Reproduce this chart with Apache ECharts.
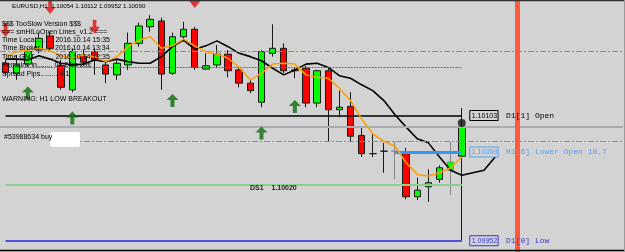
<!DOCTYPE html>
<html><head><meta charset="utf-8">
<script src="https://cdn.jsdelivr.net/npm/echarts@6/dist/echarts.min.js"></script>
<style>html,body{margin:0;padding:0;background:#d3d3d3}#c{width:625px;height:252px}</style>
</head><body><div id="c"></div>
<script>
// H1 bar times (broker time), last real bar = "10.14 13:00"; later slots are empty future space
const barTimes = [
 "10.12 20:00","10.12 21:00","10.12 22:00","10.12 23:00",
 "10.13 00:00","10.13 01:00","10.13 02:00","10.13 03:00","10.13 04:00","10.13 05:00","10.13 06:00","10.13 07:00",
 "10.13 08:00","10.13 09:00","10.13 10:00","10.13 11:00","10.13 12:00","10.13 13:00","10.13 14:00","10.13 15:00",
 "10.13 16:00","10.13 17:00","10.13 18:00","10.13 19:00","10.13 20:00","10.13 21:00","10.13 22:00","10.13 23:00",
 "10.14 00:00","10.14 01:00","10.14 02:00","10.14 03:00","10.14 04:00","10.14 05:00","10.14 06:00","10.14 07:00",
 "10.14 08:00","10.14 09:00","10.14 10:00","10.14 11:00","10.14 12:00","10.14 13:00",
 "10.14 14:00","10.14 15:00","10.14 16:00","10.14 17:00","10.14 18:00","10.14 19:00","10.14 20:00","10.14 21:00",
 "10.14 22:00","10.14 23:00","10.15 00:00","10.15 01:00","10.15 02:00","10.15 03:00"
];
const opens  = [1.10166,1.10154,1.10165,1.10182,1.10199,1.10163,1.10134,1.10176,1.10180,1.10164,1.10152,1.10164,1.10190,1.10210,1.10217,1.10154,1.10198,1.10207,1.10159,1.10164,1.10177,1.10158,1.10142,1.10119,1.10178,1.10184,1.10158,1.10160,1.10118,1.10157,1.10110,1.10114,1.10079,1.10057,1.10060,1.10060,1.10058,1.10005,1.10017,1.10026,1.10037,1.10054];
const closes = [1.10155,1.10164,1.10180,1.10196,1.10184,1.10137,1.10180,1.10168,1.10170,1.10153,1.10166,1.10190,1.10211,1.10219,1.10153,1.10198,1.10207,1.10161,1.10163,1.10177,1.10157,1.10142,1.10133,1.10180,1.10184,1.10157,1.10157,1.10118,1.10157,1.10110,1.10113,1.10078,1.10057,1.10057,1.10060,1.10060,1.10005,1.10013,1.10022,1.10040,1.10047,1.10090];
const lows   = [1.10152,1.10146,1.10163,1.10178,1.10180,1.10134,1.10131,1.10163,1.10152,1.10142,1.10146,1.10158,1.10186,1.10204,1.10134,1.10152,1.10192,1.10158,1.10158,1.10160,1.10149,1.10137,1.10130,1.10113,1.10174,1.10154,1.10148,1.10113,1.10113,1.10071,1.10101,1.10071,1.10053,1.10053,1.10034,1.10026,1.10002,1.10001,1.09999,1.10022,1.10007,1.09952];
const highs  = [1.10170,1.10176,1.10184,1.10203,1.10204,1.10170,1.10184,1.10182,1.10184,1.10168,1.10170,1.10203,1.10215,1.10224,1.10221,1.10203,1.10216,1.10210,1.10178,1.10188,1.10182,1.10160,1.10146,1.10182,1.10213,1.10190,1.10161,1.10163,1.10158,1.10161,1.10133,1.10131,1.10088,1.10081,1.10070,1.10072,1.10064,1.10028,1.10038,1.10043,1.10071,1.10112];
// slow MA (shifted 3 bars forward) and fast MA
const maSlow = [1.10171,1.10171,1.10170,1.10175,1.10171,1.10166,1.10164,1.10165,1.10170,1.10168,1.10171,1.10168,1.10166,1.10166,1.10174,1.10186,1.10194,1.10183,1.10187,1.10193,1.10186,1.10178,1.10174,1.10169,1.10160,1.10152,1.10158,1.10165,1.10166,1.10161,1.10151,1.10148,1.10140,1.10133,1.10121,1.10104,1.10089,1.10075,1.10070,1.10053,1.10037,1.10031,1.10034,1.10037,1.10053];
const maFast = [1.10174,1.10180,1.10182,1.10184,1.10181,1.10175,1.10172,1.10176,1.10174,1.10168,1.10174,1.10186,1.10194,1.10198,1.10184,1.10187,1.10195,1.10187,1.10180,1.10177,1.10172,1.10161,1.10146,1.10154,1.10165,1.10166,1.10165,1.10152,1.10149,1.10148,1.10136,1.10121,1.10099,1.10081,1.10072,1.10066,1.10046,1.10032,1.10030,1.10034,1.10040,1.10053];
// signal arrows
const sellArrowIdx = [0, 4, 8, 17];
const sellArrowPrice = [1.10206, 1.10234, 1.10210, 1.10241];
const buyArrowIdx = [2, 6, 15, 23, 26];
const buyArrowPrice = [1.10130, 1.10100, 1.10121, 1.10082, 1.10114];
// price levels
const levelUpper = 1.10180, levelOlive = 1.10161, levelD1Open = 1.10103, levelBid = 1.10090;
const levelOrder = 1.10072, levelH1Open = 1.10059, levelDS1 = 1.10020, levelD1Low = 1.09952;
const currentMarker = 1.10094;
const lastIdx = 41, h1StartIdx = 35, timeLineIdx = 46;
const grayWickIdx = [35, 40];

const candles = opens.map((o, i) => {
  const v = [o, closes[i], lows[i], highs[i]];
  return grayWickIdx.includes(i) ? {value: v, itemStyle: {borderColor: '#8a8a8a', borderColor0: '#8a8a8a', borderColorDoji: '#8a8a8a'}} : v;
});

const upPath = 'path://M6,0 L12,6 L8,6 L8,13 L4,13 L4,6 L0,6 Z';
const downPath = 'path://M4,0 L8,0 L8,7 L12,7 L6,14 L0,7 L4,7 Z';

function boxLabel(price, text, col) {
  return {
    show: true, position: 'end', distance: 8,
    formatter: '{b|' + price + '}{t|' + text + '}',
    rich: {
      b: {fontFamily: 'Liberation Sans', fontSize: 7, color: col, borderColor: col, borderWidth: 1, padding: [2, 1, 1, 2]},
      t: {fontFamily: 'Liberation Mono', fontSize: 8, color: col, padding: [0, 0, 0, 8]}
    }
  };
}

const txt = (s, x, y, size, weight, col) => ({type: 'text', x: x, y: y, z: 100, silent: true,
  style: {text: s, font: (weight || 'normal') + ' ' + (size || 7) + 'px "Liberation Sans"', fill: col || '#000', verticalAlign: 'middle'}});

const chart = echarts.init(document.getElementById('c'), null, {renderer: 'canvas'});
chart.setOption({
  animation: false,
  backgroundColor: '#d3d3d3',
  grid: {left: -6.875, right: 1.875, top: 0, bottom: 0},
  xAxis: {type: 'category', data: barTimes, boundaryGap: true, show: false},
  yAxis: {type: 'value', min: 1.099384, max: 1.102423, show: false, splitLine: {show: false}, scale: true},
  series: [
    {
      type: 'line', data: [], symbol: 'none', z: 1, silent: true,
      markLine: {
        silent: true, symbol: ['none', 'none'], animation: false, precision: 5,
        label: {show: false},
        data: [
          {yAxis: levelUpper, lineStyle: {color: '#00f000', type: [6, 2, 2, 2], width: 1.2}},
          [{coord: [barTimes[0], levelOlive], lineStyle: {color: '#7a7a00', type: [2, 1], width: 1}}, {coord: [barTimes[lastIdx], levelOlive]}],
          {yAxis: levelBid, lineStyle: {color: '#a8acb3', type: 'solid', width: 2}},
          {yAxis: levelOrder, lineStyle: {color: '#00f000', type: [6, 2, 2, 2], width: 1.2}},
          [{coord: [barTimes[0], levelDS1], lineStyle: {color: '#8ccf8c', type: 'solid', width: 2}}, {coord: [barTimes[lastIdx], levelDS1]}],
          [{coord: [barTimes[0], levelD1Open], lineStyle: {color: '#000', type: 'solid', width: 1.5}, label: boxLabel('1.10103', 'D1[1] Open', '#000')}, {coord: [barTimes[lastIdx], levelD1Open]}],
          [{coord: [barTimes[h1StartIdx], levelH1Open], lineStyle: {color: '#3399f0', type: 'solid', width: 3}, label: boxLabel('1.10059', 'H1[6] Lower Open 10.7', '#55a2f5')}, {coord: [barTimes[lastIdx], levelH1Open]}],
          [{coord: [barTimes[0], levelD1Low], lineStyle: {color: '#5050d8', type: 'solid', width: 2}, label: boxLabel('1.09952', 'D1[0] Low', '#3a3ad0')}, {coord: [barTimes[lastIdx], levelD1Low]}],
          {xAxis: barTimes[timeLineIdx], lineStyle: {color: '#ff5a3c', type: 'solid', width: 5}}
        ]
      }
    },
    {
      type: 'candlestick', data: candles, barWidth: 7, z: 2,
      itemStyle: {color: '#00ff00', color0: '#ff0000', borderColor: '#1a1a1a', borderColor0: '#1a1a1a', borderColorDoji: '#1a1a1a', borderWidth: 1}
    },
    {type: 'line', data: maSlow, symbol: 'none', z: 4, lineStyle: {color: '#000', width: 1.6}},
    {type: 'line', data: maFast, symbol: 'none', z: 5, lineStyle: {color: '#ffa000', width: 1.5}},
    {type: 'scatter', z: 6, symbol: downPath, symbolSize: [11, 14], itemStyle: {color: '#e01010'},
      data: sellArrowIdx.map((i, j) => [barTimes[i], sellArrowPrice[j]])},
    {type: 'scatter', z: 6, symbol: upPath, symbolSize: [12, 13], itemStyle: {color: '#0d6d0d'},
      data: buyArrowIdx.map((i, j) => [barTimes[i], buyArrowPrice[j]])},
    {type: 'scatter', z: 7, symbol: 'circle', symbolSize: 8, itemStyle: {color: '#151515'},
      data: [[barTimes[lastIdx], currentMarker]]}
  ],
  graphic: [
    {type: 'line', z: 90, silent: true, shape: {x1: 0, y1: 0.5, x2: 625, y2: 0.5}, style: {stroke: '#333', lineWidth: 1.5}},
    {type: 'line', z: 90, silent: true, shape: {x1: 0, y1: 250.5, x2: 625, y2: 250.5}, style: {stroke: '#000', lineWidth: 1.5}},
    {type: 'line', z: 90, silent: true, shape: {x1: 624.5, y1: 0, x2: 624.5, y2: 252}, style: {stroke: '#9a9a9a', lineWidth: 1}},
    txt('EURUSD,H1  1.10054 1.10112 1.09952 1.10090', 12, 6, 6.2),
    txt('$$$ TooSlow Version $$$', 2, 24),
    txt('=== smHiLoOpen Lines_v1.2 ===', 2, 32.5),
    txt('Time Local......... 2016.10.14 15:35', 2, 40.5),
    txt('Time Broker....... 2016.10.14 13:34', 2, 48.5),
    txt('Time GMT.......... 2016.10.14 12:35', 2, 57),
    txt('Remains in........ 0h 24m 29s', 2, 65.5),
    txt('Spread Pips......... 0.1', 2, 74),
    txt('WARNING: H1 LOW BREAKOUT', 2, 99),
    {type: 'rect', z: 95, silent: true, shape: {x: 0, y: 132, width: 50, height: 11}, style: {fill: '#d3d3d3'}},
    txt('#53988634 buy', 4, 137.5),
    {type: 'rect', z: 95, silent: true, shape: {x: 50, y: 132, width: 30, height: 15, r: 2}, style: {fill: '#ffffff'}},
    txt('DS1    1.10020', 250, 188.5, 7, 'bold', '#222')
  ]
});
</script></body></html>
